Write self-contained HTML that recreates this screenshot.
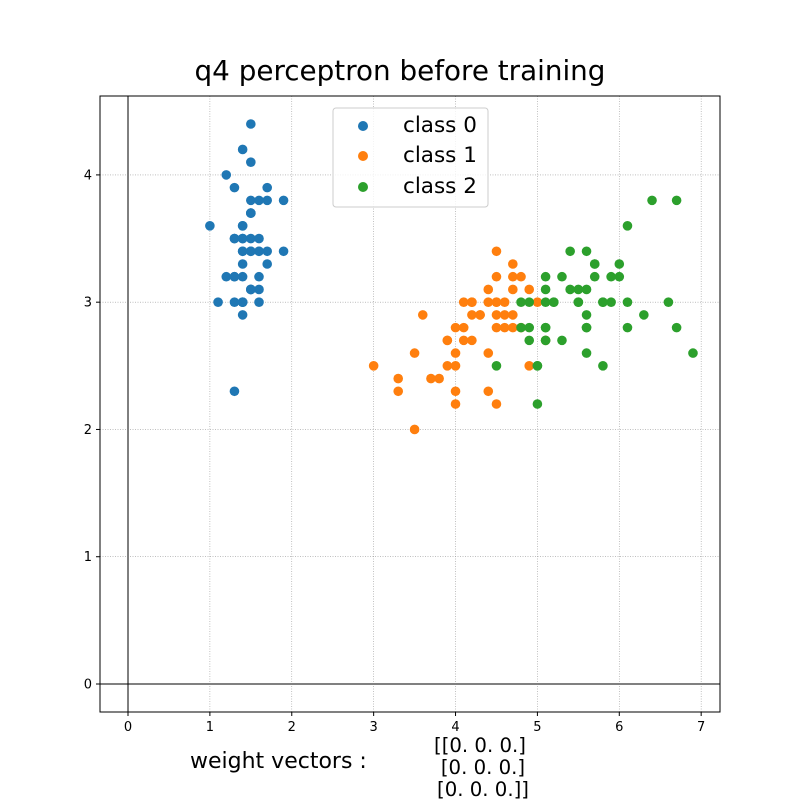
<!DOCTYPE html>
<html><head><meta charset="utf-8"><style>
body{margin:0;background:#fff}
svg{display:block;font-family:"DejaVu Sans","Liberation Sans",sans-serif}
</style></head><body>
<svg id="chart" width="800" height="800">
<rect width="800" height="800" fill="#fff"/>
<text x="400" y="80" text-anchor="middle" font-size="27.8">q4 perceptron before training</text>
<g id="grid"></g>
<g id="axes"></g>
<g id="marks"></g>
<rect x="100" y="96" width="620" height="616" fill="none" stroke="#000" stroke-width="1"/>
<g>
<rect x="333" y="108" width="155" height="99" rx="3" fill="#fff" fill-opacity="0.8" stroke="#ccc"/>
<circle cx="363" cy="126" r="5" fill="#1f77b4"/><text x="403" y="132" font-size="21.5">class 0</text>
<circle cx="363" cy="156" r="5" fill="#ff7f0e"/><text x="403" y="162" font-size="21.5">class 1</text>
<circle cx="363" cy="187" r="5" fill="#2ca02c"/><text x="403" y="193" font-size="21.5">class 2</text>
</g>
<text x="190" y="768" font-size="22">weight vectors :</text>
<g font-size="19.7" text-anchor="middle">
<text x="480" y="752">[[0. 0. 0.]</text>
<text x="483" y="774">[0. 0. 0.]</text>
<text x="483" y="796">[0. 0. 0.]]</text>
</g>
</svg>
<script>
const xTicks=[0,1,2,3,4,5,6,7];
const yTicks=[0,1,2,3,4];
const class0X=[1.4,1.4,1.3,1.5,1.4,1.7,1.4,1.5,1.4,1.5,1.5,1.6,1.4,1.1,1.2,1.5,1.3,1.4,1.7,1.5,1.7,1.5,1.0,1.7,1.9,1.6,1.6,1.5,1.4,1.6,1.6,1.5,1.5,1.4,1.5,1.2,1.3,1.4,1.3,1.5,1.3,1.3,1.3,1.6,1.9,1.4,1.6,1.4,1.5,1.4];
const class0Y=[3.5,3.0,3.2,3.1,3.6,3.9,3.4,3.4,2.9,3.1,3.7,3.4,3.0,3.0,4.0,4.4,3.9,3.5,3.8,3.8,3.4,3.7,3.6,3.3,3.4,3.0,3.4,3.5,3.4,3.2,3.1,3.4,4.1,4.2,3.1,3.2,3.5,3.6,3.0,3.4,3.5,2.3,3.2,3.5,3.8,3.0,3.8,3.2,3.7,3.3];
const class1X=[4.7,4.5,4.9,4.0,4.6,4.5,4.7,3.3,4.6,3.9,3.5,4.2,4.0,4.7,3.6,4.4,4.5,4.1,4.5,3.9,4.8,4.0,4.9,4.7,4.3,4.4,4.8,5.0,4.5,3.5,3.8,3.7,3.9,5.1,4.5,4.5,4.7,4.4,4.1,4.0,4.4,4.6,4.0,3.3,4.2,4.2,4.2,4.3,3.0,4.1];
const class1Y=[3.2,3.2,3.1,2.3,2.8,2.8,3.3,2.4,2.9,2.7,2.0,3.0,2.2,2.9,2.9,3.1,3.0,2.7,2.2,2.5,3.2,2.8,2.5,2.8,2.9,3.0,2.8,3.0,2.9,2.6,2.4,2.4,2.7,2.7,3.0,3.4,3.1,2.3,3.0,2.5,2.6,3.0,2.6,2.3,2.7,3.0,2.9,2.9,2.5,2.8];
const class2X=[6.0,5.1,5.9,5.6,5.8,6.6,4.5,6.3,5.8,6.1,5.1,5.3,5.5,5.0,5.1,5.3,5.5,6.7,6.9,5.0,5.7,4.9,6.7,4.9,5.7,6.0,4.8,4.9,5.6,5.8,6.1,6.4,5.6,5.1,5.6,6.1,5.6,5.5,4.8,5.4,5.6,5.1,5.1,5.9,5.7,5.2,5.0,5.2,5.4,5.1];
const class2Y=[3.3,2.7,3.0,2.9,3.0,3.0,2.5,2.9,2.5,3.6,3.2,2.7,3.0,2.5,2.8,3.2,3.0,3.8,2.6,2.2,3.2,2.8,2.8,2.7,3.3,3.2,2.8,3.0,2.8,3.0,2.8,3.8,2.8,2.8,2.6,3.0,3.4,3.1,3.0,3.1,3.1,3.1,2.7,3.2,3.3,3.0,2.5,3.0,3.4,3.0];
const X0=100,X1=720,Y0=96,Y1=712,xmin=-0.342,xmax=7.23,ymin=-0.22,ymax=4.62;
const sx=v=>X0+(v-xmin)/(xmax-xmin)*(X1-X0);
const sy=v=>Y1-(v-ymin)/(ymax-ymin)*(Y1-Y0);
const NS="http://www.w3.org/2000/svg";
const mk=(t,a,p)=>{const e=document.createElementNS(NS,t);for(const k in a)e.setAttribute(k,a[k]);p.appendChild(e);return e;};
const grid=document.getElementById('grid'),axes=document.getElementById('axes'),marks=document.getElementById('marks');
xTicks.forEach(t=>{const x=sx(t);
 const g=mk('line',{x1:x,x2:x,y1:Y0,y2:Y1,stroke:'#999','stroke-width':0.6,'stroke-dasharray':'1,1.5'},grid);
 
 
 mk('line',{x1:x,x2:x,y1:Y1,y2:Y1+4,stroke:'#000'},axes);
 const l=mk('text',{x:x,y:Y1+19,'text-anchor':'middle','font-size':13},axes);l.textContent=t;
 
 
});
yTicks.forEach(t=>{const y=sy(t);
 const g=mk('line',{x1:X0,x2:X1,y1:y,y2:y,stroke:'#999','stroke-width':0.6,'stroke-dasharray':'1,1.5'},grid);
 
 
 mk('line',{x1:X0-4,x2:X0,y1:y,y2:y,stroke:'#000'},axes);
 const l=mk('text',{x:X0-8,y:y+4.5,'text-anchor':'end','font-size':13},axes);l.textContent=t;
 
 
});
const vx=mk('line',{x1:sx(0),x2:sx(0),y1:Y0,y2:Y1,stroke:'#000','stroke-width':1},axes);


const hx=mk('line',{x1:X0,x2:X1,y1:sy(0),y2:sy(0),stroke:'#000','stroke-width':1},axes);


[[class0X,class0Y,'#1f77b4','class-0-point'],[class1X,class1Y,'#ff7f0e','class-1-point'],[class2X,class2Y,'#2ca02c','class-2-point']].forEach(([xs,ys,c,n])=>{
 xs.forEach((v,i)=>{const p=mk('circle',{cx:sx(v),cy:sy(ys[i]),r:4.8,fill:c},marks);
  
  
 });
});
</script>
</body></html>
